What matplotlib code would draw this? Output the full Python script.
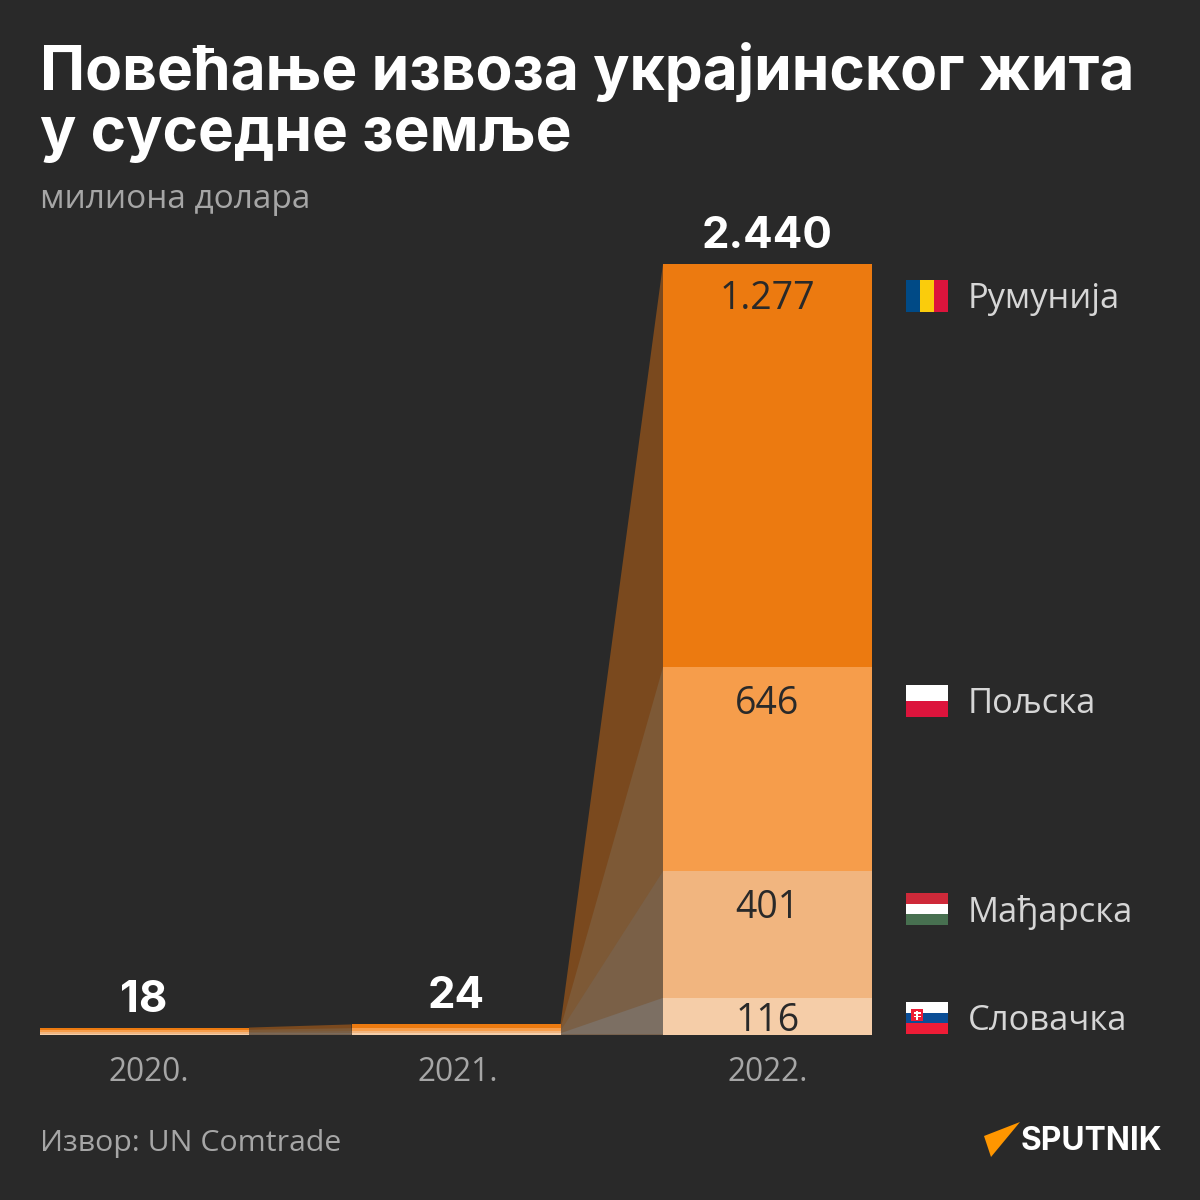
import matplotlib
matplotlib.use("Agg")
import matplotlib.pyplot as plt
from matplotlib.patches import Polygon, Rectangle

years = ["2020.", "2021.", "2022."]
totals = ["18", "24", "2.440"]
countries = ["Румунија", "Пољска", "Мађарска", "Словачка"]
romania = [7, 12, 1277]
poland = [7, 9, 646]
hungary = [5, 7, 401]
slovakia = [3, 4, 116]
labels_2022 = ["1.277", "646", "401", "116"]
colors = ["#EC7A10", "#F69D4B", "#F1B57F", "#F5CDA8"]
link_colors = ["#7A491E", "#7D5936", "#7A6047", "#7C6F63"]

BG = "#292929"
series = [romania, poland, hungary, slovakia]
W, H = 1200, 1200

fig = plt.figure(figsize=(12, 12), dpi=100, facecolor=BG)
plt.rcParams["font.family"] = ["Open Sans", "DejaVu Sans"]

def fx(p): return p / W
def fy(p): return 1 - p / H

ax = fig.add_axes([fx(40), fy(1034.5), (872 - 40) / W, (1034.5 - 264) / H])
ax.set_facecolor("none")
bw = 209 / 311.5
ax.set_xlim(-bw / 2, 2 + bw / 2)
ax.set_ylim(0, 2440)
ax.axis("off")

# cumulative tops, Romania on top of the stack
tops = []
for i in range(3):
    acc, col = sum(s[i] for s in series), []
    for s in series:
        col.append(acc)
        acc -= s[i]
    tops.append(col)

# links between the bars, largest first so that lower ones overlay
for i in range(2):
    for k in range(4):
        ax.add_patch(Polygon([(i + bw / 2, 0), (i + bw / 2, tops[i][k]),
                              (i + 1 - bw / 2, tops[i + 1][k]), (i + 1 - bw / 2, 0)],
                             closed=True, facecolor=link_colors[k], edgecolor="none", zorder=1))

for i in range(3):
    for k, s in enumerate(series):
        ax.bar(i, s[i], bw, bottom=tops[i][k] - s[i], color=colors[k], linewidth=0, zorder=2)

label_off = [-35, -37, -37, -23]
for k, lab in enumerate(labels_2022):
    ax.annotate(lab, (2, tops[2][k]), xytext=(0, label_off[k]), textcoords="offset pixels", ha="center",
                va="center", fontsize=27, color="#292929", zorder=3)

total_dy = [27, 28, 28]
total_dx = [-0.5, 0, 0]
year_dx = [4, 2, 0]
for i in range(3):
    ax.annotate(totals[i], (i, tops[i][0]), xytext=(total_dx[i], total_dy[i]),
                textcoords="offset pixels", ha="center", va="center",
                fontsize=31.5, fontweight="bold", color="white", family=["Inter", "DejaVu Sans"])
    ax.annotate(years[i], (i, 0), xytext=(year_dx[i], -38), textcoords="offset pixels",
                ha="center", va="center", fontsize=22.8, color="#A6A6A6")

fig.text(fx(40), fy(73), "Повећање извоза украјинског жита", fontsize=43.5, fontweight="bold",
         color="white", va="center", ha="left", family=["Inter", "DejaVu Sans"])
fig.text(fx(40), fy(135), "у суседне земље", fontsize=43.5, fontweight="bold",
         color="white", va="center", ha="left", family=["Inter", "DejaVu Sans"])
fig.text(fx(40), fy(200), "милиона долара", fontsize=24, color="#A6A6A6", va="center", ha="left")
fig.text(fx(40), fy(1143), "Извор: UN Comtrade", fontsize=21.8, color="#A6A6A6", va="center", ha="left")

# legend
ys = [299, 704, 912, 1021]
for c, y in zip(countries, ys):
    fig.text(fx(968), fy(y), c, fontsize=24.8, color="#D6D6D6", va="center", ha="left")

def rect(x, y, w, h, col, z=5):
    fig.add_artist(Rectangle((fx(x), fy(y + h)), w / W, h / H, transform=fig.transFigure,
                             facecolor=col, edgecolor="none", zorder=z))

# Romania (vertical stripes)
for j, col in enumerate(["#004A86", "#FACC0C", "#DC143C"]):
    rect(906 + j * 14, 280, 14, 32, col)
# Poland
rect(906, 685, 42, 16, "#FFFFFF"); rect(906, 701, 42, 16, "#DC143C")
# Hungary
for j, col in enumerate(["#CE2939", "#FFFFFF", "#477050"]):
    rect(906, 893 + j * 10.67, 42, 10.67, col)
# Slovakia
for j, col in enumerate(["#FFFFFF", "#0B4E96", "#EE1C36"]):
    rect(906, 1002 + j * 10.67, 42, 10.67, col)
rect(911, 1009, 12, 12, "#EE1C36", 6)
rect(916, 1010.5, 2, 9, "#FFFFFF", 7)
rect(913.5, 1012, 7, 1.5, "#FFFFFF", 7)
rect(913.5, 1015.5, 7, 1.5, "#FFFFFF", 7)

# logo
pts = [(1020, 1122), (984, 1136), (991, 1157)]
fig.add_artist(Polygon([(fx(a), fy(b)) for a, b in pts], closed=True, transform=fig.transFigure,
                       facecolor="#FF9600", edgecolor="none"))
fig.text(fx(1021), fy(1141), "SPUTNIK", fontsize=22.8, fontweight="bold", color="white",
         family=["Inter", "DejaVu Sans"], va="center", ha="left")

fig.savefig("out.png", dpi=100, facecolor=BG)
